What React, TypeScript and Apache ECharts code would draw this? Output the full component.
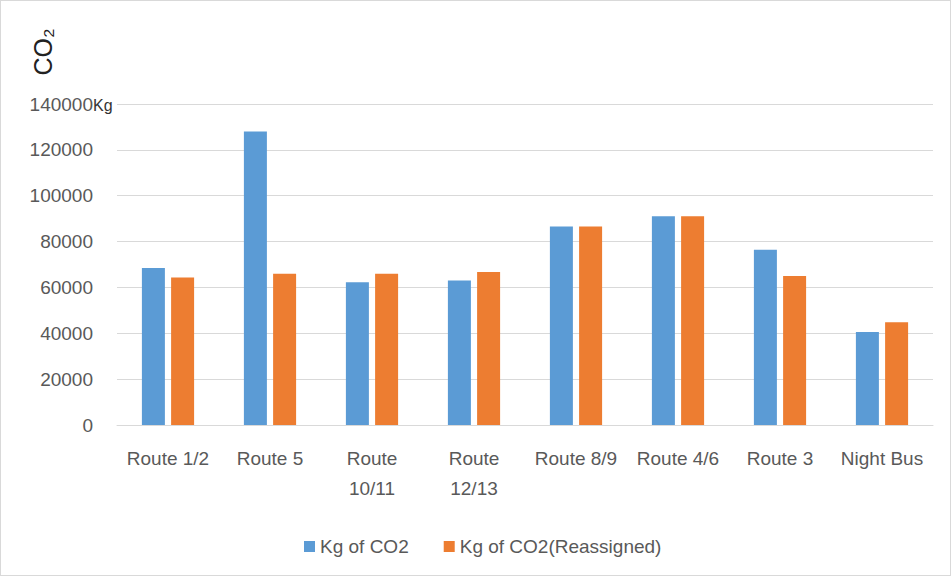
import React, { useEffect, useRef } from "react";
import * as echarts from "echarts";

const categories = ["Route 1/2", "Route 5", "Route 10/11", "Route 12/13", "Route 8/9", "Route 4/6", "Route 3", "Night Bus"];
const kgCO2 = [68500, 128000, 62300, 63000, 86600, 91000, 76400, 40600];
const kgCO2Reassigned = [64300, 66000, 66000, 66700, 86600, 91000, 65000, 44800];
const seriesNames = ["Kg of CO2", "Kg of CO2(Reassigned)"];
const yMax = 140000;
const yInterval = 20000;

const FONT = "'Liberation Sans', 'DejaVu Sans', sans-serif";
const GREY = "#595959";

export default function App() {
  const ref = useRef<HTMLDivElement>(null);
  useEffect(() => {
    if (!ref.current) return;
    const chart = echarts.init(ref.current, undefined, { renderer: "svg" });
    chart.setOption({
      animation: false,
      backgroundColor: "#ffffff",
      textStyle: { fontFamily: FONT },
      grid: { left: 116, right: 17, top: 103, bottom: 150, containLabel: false },
      legend: {
        left: 298,
        top: 531,
        icon: "rect",
        itemWidth: 11,
        itemHeight: 11,
        itemGap: 35,
        textStyle: { color: GREY, fontSize: 19, fontFamily: FONT },
        data: seriesNames,
      },
      xAxis: {
        type: "category",
        data: categories,
        axisLine: { lineStyle: { color: "#d9d9d9" } },
        axisTick: { show: false },
        axisLabel: {
          color: GREY,
          fontSize: 19,
          margin: 18,
          lineHeight: 30,
          interval: 0,
          formatter: (v: string) => (v.length > 9 ? v.replace(" ", "\n") : v),
        },
      },
      yAxis: {
        type: "value",
        min: 0,
        max: yMax,
        interval: yInterval,
        axisLine: { show: false },
        axisTick: { show: false },
        splitLine: { lineStyle: { color: "#d9d9d9" } },
        axisLabel: {
          color: GREY,
          fontSize: 19,
          margin: 24,
          formatter: (v: number) => String(v),
        },
      },
      graphic: [
        {
          type: "text",
          x: 42,
          y: 51,
          rotation: Math.PI / 2,
          style: {
            text: "CO₂",
            fontSize: 25,
            fontFamily: FONT,
            fill: "#222",
            align: "center",
            verticalAlign: "middle",
          },
        },
        {
          type: "text",
          x: 92,
          y: 104,
          style: {
            text: "Kg",
            fontSize: 16,
            fontFamily: FONT,
            fill: "#333",
            align: "left",
            verticalAlign: "middle",
          },
        },
      ],
      series: [
        {
          name: seriesNames[0],
          type: "bar",
          data: kgCO2,
          barWidth: 23,
          barGap: "27%",
          itemStyle: { color: "#5B9BD5" },
        },
        {
          name: seriesNames[1],
          type: "bar",
          data: kgCO2Reassigned,
          barWidth: 23,
          itemStyle: { color: "#ED7D31" },
        },
      ],
    });
    return () => chart.dispose();
  }, []);
  return (
    <div
      style={{
        position: "fixed",
        left: 0,
        top: 0,
        width: 951,
        height: 576,
        boxSizing: "border-box",
        border: "1px solid #d9d9d9",
        background: "#fff",
      }}
    >
      <div ref={ref} style={{ width: 949, height: 574 }} />
    </div>
  );
}
